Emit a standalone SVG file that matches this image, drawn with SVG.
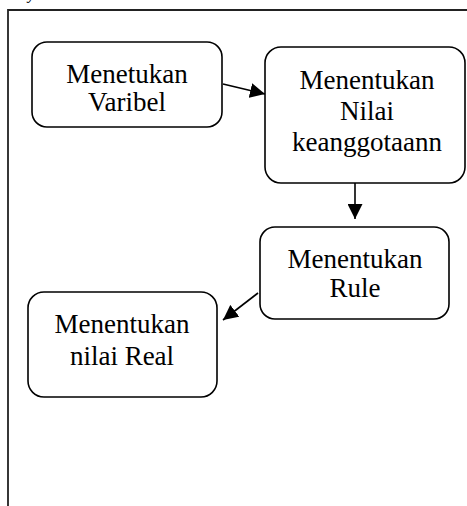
<svg xmlns="http://www.w3.org/2000/svg" width="467" height="506" viewBox="0 0 467 506">
<defs>
<style>
.box{fill:#fff;stroke:#000;stroke-width:1.6}
.t{font-family:"Liberation Serif","Times New Roman",serif;font-size:27px;fill:#000;text-anchor:middle}
.c{stroke:#000;stroke-width:1.6;fill:none}
</style>
<marker id="ah2" viewBox="0 0 10 10" refX="10" refY="5" markerWidth="15" markerHeight="15" markerUnits="userSpaceOnUse" orient="auto">
<path d="M0,0 L10,5 L0,10 z" fill="#000"/>
</marker>
</defs>
<rect width="467" height="506" fill="#fff"/>
<text x="28" y="-1" font-family="Liberation Serif, serif" font-style="italic" font-size="16">y</text>
<path d="M8,506 V10 H470" fill="none" stroke="#222" stroke-width="1.8"/>
<g id="connectors">
<line class="c" x1="223" y1="84" x2="265" y2="94" marker-end="url(#ah2)"/>
<line class="c" x1="355" y1="183" x2="355" y2="219" marker-end="url(#ah2)"/>
<line class="c" x1="258" y1="293" x2="223" y2="320" marker-end="url(#ah2)"/>
</g>
<g id="n1">
<rect class="box" x="32" y="42" width="190" height="85" rx="15"/>
<text class="t" x="127" y="83">Menetukan</text>
<text class="t" x="127" y="111">Varibel</text>
</g>
<g id="n2">
<rect class="box" x="265" y="47" width="200" height="136" rx="16"/>
<text class="t" x="367" y="89">Menentukan</text>
<text class="t" x="367" y="120">Nilai</text>
<text class="t" x="367" y="151">keanggotaann</text>
</g>
<g id="n3">
<rect class="box" x="260" y="227" width="189" height="92" rx="15"/>
<text class="t" x="355" y="268">Menentukan</text>
<text class="t" x="355" y="297">Rule</text>
</g>
<g id="n4">
<rect class="box" x="28" y="292" width="189" height="105" rx="16"/>
<text class="t" x="122" y="333">Menentukan</text>
<text class="t" x="122" y="365">nilai Real</text>
</g>
</svg>
